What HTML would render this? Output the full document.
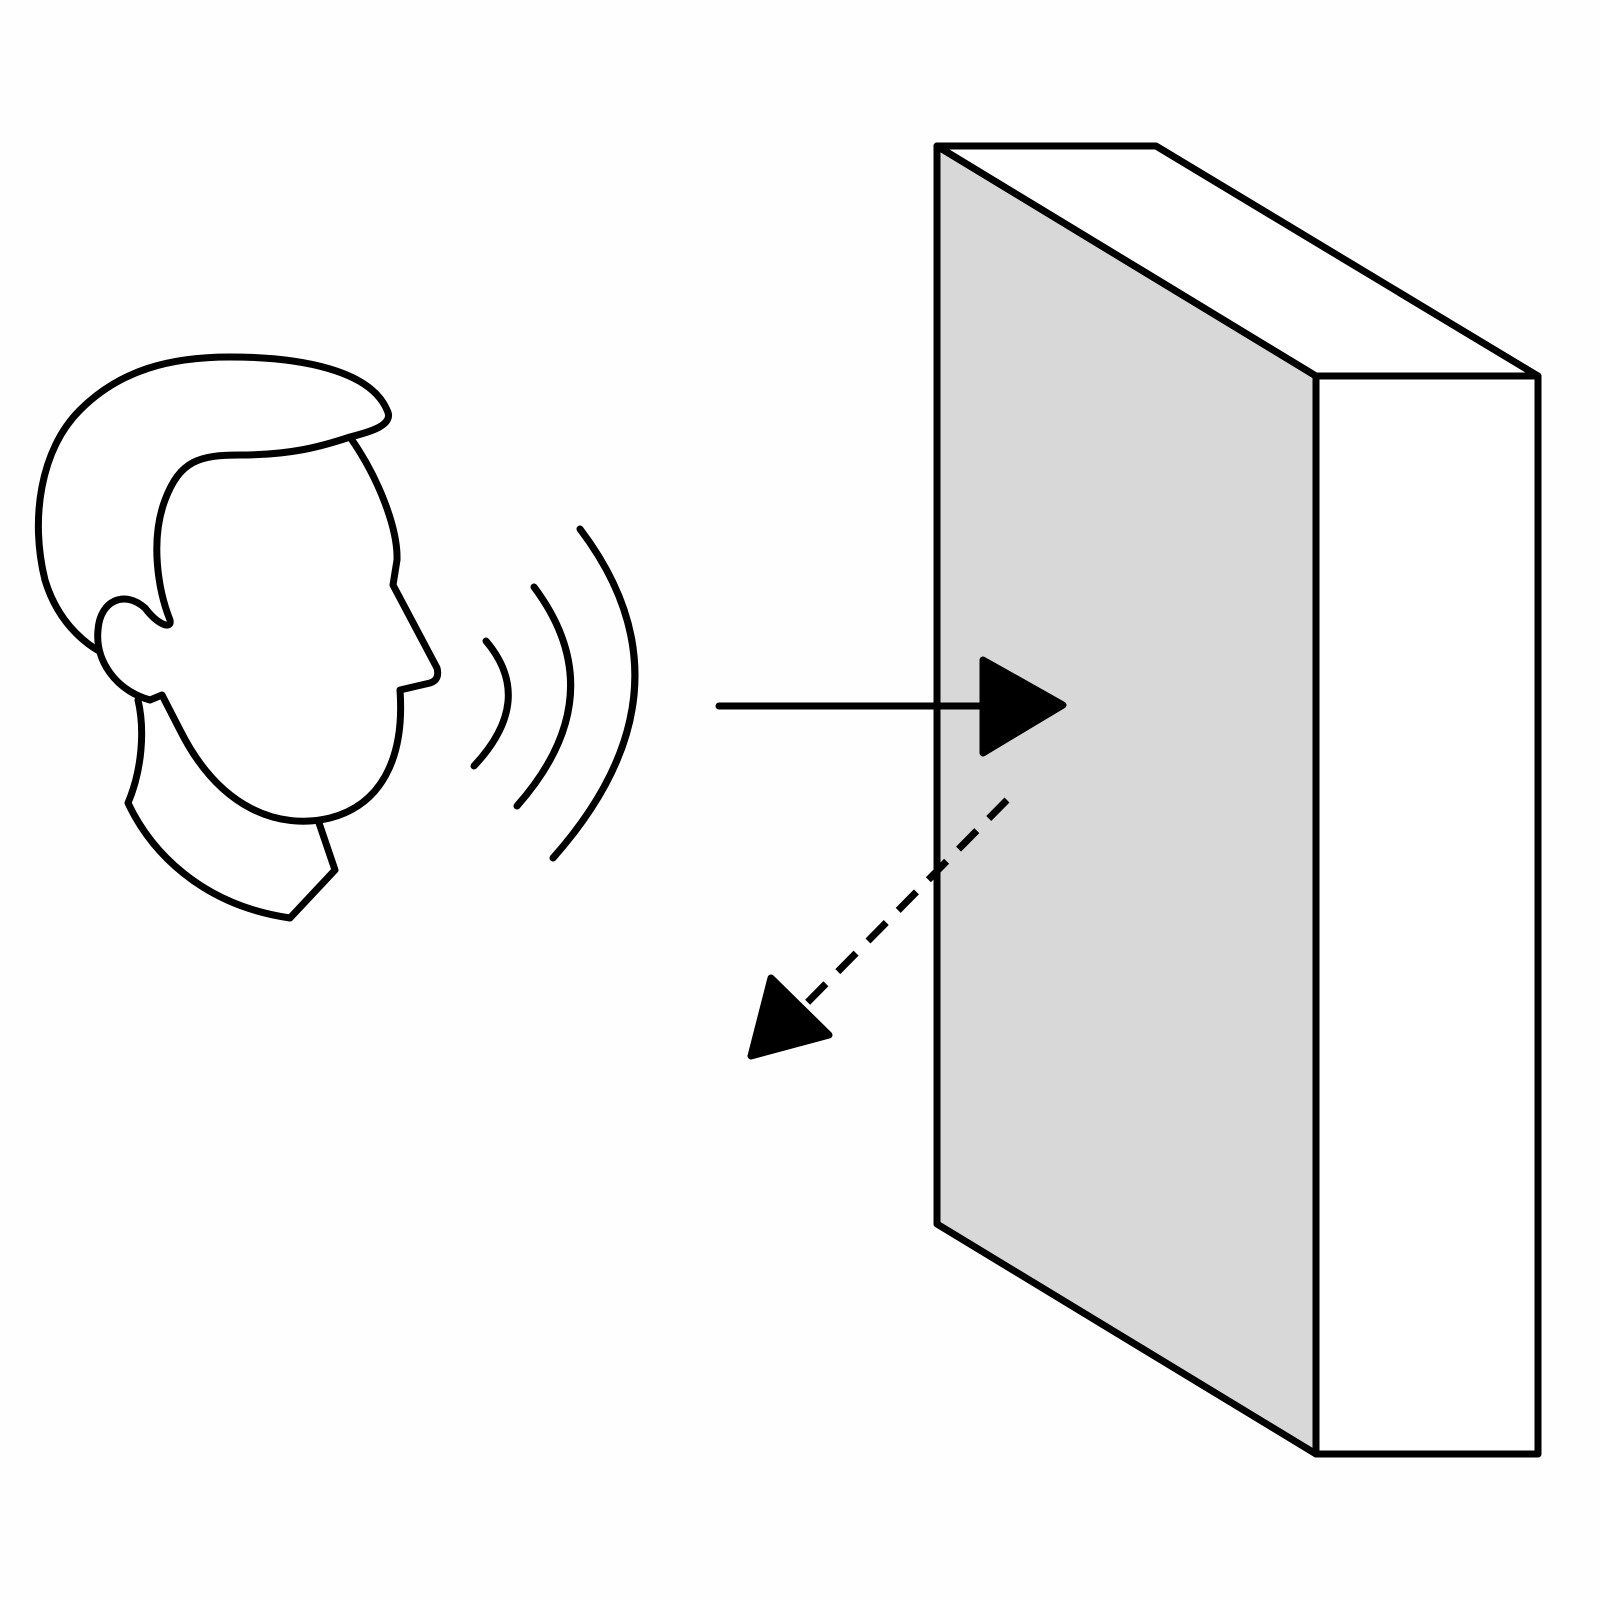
<!DOCTYPE html>
<html><head><meta charset="utf-8"><style>html,body{margin:0;padding:0;background:#fff}svg{display:block}</style></head>
<body>
<svg width="1600" height="1600" viewBox="0 0 1600 1600" xmlns="http://www.w3.org/2000/svg">
<rect width="1600" height="1600" fill="#fefefe"/>
<g stroke="#000" stroke-width="7" stroke-linejoin="round" stroke-linecap="round">
  <!-- dashed -->
  <line x1="1007" y1="800" x2="800" y2="1010" stroke-dasharray="26,17" stroke-linecap="butt" fill="none"/>
  <!-- wall -->
  <polygon points="937,146 1316,376 1316,1454 937,1224" fill="#d8d8d8"/>
  <polygon points="937,146 1156,146 1538,376 1316,376" fill="#fff"/>
  <polygon points="1316,376 1538,376 1538,1454 1316,1454" fill="#fff"/>
  <line x1="1007" y1="800" x2="937" y2="871" stroke-dasharray="26,17" stroke-linecap="butt" fill="none"/>
  <!-- arrow -->
  <line x1="719" y1="706" x2="990" y2="706" fill="none"/>
  <polygon points="983,660 1063,705 983,753" fill="#000"/>
  <polygon points="751,1056 771,978 829,1035" fill="#000"/>
  <!-- waves -->
  <path d="M486,641 Q536,700 474,766" fill="none"/>
  <path d="M534,587 Q615,695 517,806" fill="none"/>
  <path d="M580,529 Q702,690 553,858" fill="none"/>
  <!-- head -->
  <g fill="#fff">
    <path d="M133,660 C145,690 145,720 128,805 C150,845 200,900 290,918 L335,870 L318,820 C300,800 150,780 133,660 Z" fill="#fff" stroke="none"/>
    <path d="M138,700 C145,730 142,770 128,803 C150,850 200,905 290,918 L335,870 L318,820"/>
    <path d="M350,437 C370,432 395,425 387,410 C370,370 300,357 230,357 C170,357 120,370 80,410 C40,450 30,520 45,580 C60,630 100,660 133,662 L162,647 Z"/>
    <path d="M350,437 C380,480 398,530 397,560 L393,585 L437,668 Q440,680 430,683 L400,690 C405,760 380,805 330,818 C280,830 220,810 180,730 L162,695 L150,700 C115,690 95,660 98,630 C100,600 125,590 145,608 C158,625 172,630 170,620 C158,590 150,540 165,500 C180,460 200,455 240,455 C290,455 320,447 350,437 Z"/>
  </g>
</g>
</svg>
</body></html>
